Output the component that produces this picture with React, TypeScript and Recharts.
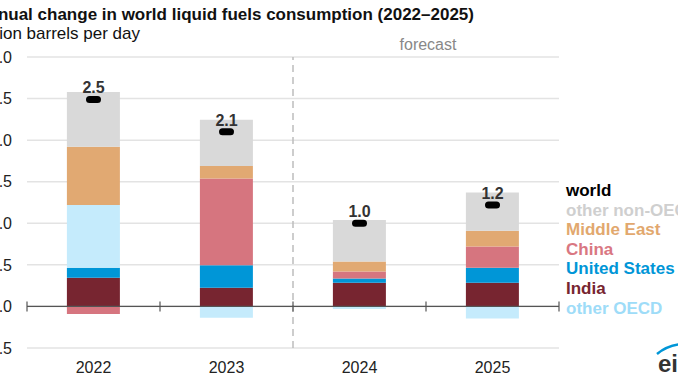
import React from 'react'
import {
  ComposedChart, Bar, Line, XAxis, YAxis, CartesianGrid, ReferenceLine, LabelList,
} from 'recharts'

// million barrels per day
const years = ['2022', '2023', '2024', '2025']
const india = [0.345, 0.225, 0.285, 0.285]
const unitedStates = [0.12, 0.27, 0.05, 0.18]
const otherOecd = [0.755, -0.135, -0.03, -0.145]
const china = [-0.09, 1.045, 0.085, 0.255]
const middleEast = [0.7, 0.15, 0.12, 0.19]
const otherNonOecd = [0.66, 0.555, 0.5, 0.46]
const world = [2.49, 2.1, 1.0, 1.22]
const yTicks = [-0.5, 0, 0.5, 1, 1.5, 2, 2.5, 3]

const data = years.map((year, i) => ({
  year,
  india: india[i],
  unitedStates: unitedStates[i],
  otherOecd: otherOecd[i],
  china: china[i],
  middleEast: middleEast[i],
  otherNonOecd: otherNonOecd[i],
  world: world[i],
}))

const legendItems = [
  { label: 'world', color: '#000000' },
  { label: 'other non-OECD', color: '#cfcfcf' },
  { label: 'Middle East', color: '#e2a86e' },
  { label: 'China', color: '#d97782' },
  { label: 'United States', color: '#0096d7' },
  { label: 'India', color: '#772530' },
  { label: 'other OECD', color: '#9edcf8' },
]

function WorldMarker(props: any) {
  const { cx, cy } = props
  if (cx == null || cy == null) return null
  return <rect x={cx - 7.5} y={cy - 3.5} width={15} height={7} rx={3.5} fill="#000" />
}

const font = '"Liberation Sans", Arial, sans-serif'

export default function App() {
  return (
    <div style={{ position: 'absolute', left: 0, top: 0, width: 678, height: 381, overflow: 'hidden', background: '#fff', fontFamily: font }}>
      <div style={{ position: 'absolute', right: 204, top: 5, whiteSpace: 'nowrap', fontWeight: 'bold', fontSize: 17, lineHeight: '20px', color: '#111' }}>
        Annual change in world liquid fuels consumption (2022–2025)
      </div>
      <div style={{ position: 'absolute', right: 538, top: 24, whiteSpace: 'nowrap', fontSize: 17, lineHeight: '20px', color: '#111' }}>
        million barrels per day
      </div>
      <div style={{ position: 'absolute', left: 428, top: 35, transform: 'translateX(-50%)', fontSize: 16, lineHeight: '20px', color: '#888' }}>
        forecast
      </div>

      <div style={{ position: 'absolute', left: -40, top: 0 }}>
        <ComposedChart
          width={720}
          height={381}
          data={data}
          stackOffset="sign"
          barCategoryGap="30%"
          margin={{ top: 57, right: 121, bottom: 0, left: 0 }}
        >
          <CartesianGrid vertical={false} stroke="#e3e3e3" strokeWidth={1.5} />
          <XAxis
            dataKey="year"
            axisLine={false}
            tickLine={false}
            height={33}
            tickMargin={8}
            tick={{ fontSize: 16, fill: '#222' }}
          />
          <YAxis
            domain={[-0.5, 3]}
            ticks={yTicks}
            width={67}
            axisLine={false}
            tickLine={false}
            tickMargin={9}
            tickFormatter={(v) => Number(v).toFixed(1)}
            tick={{ fontSize: 16, fill: '#222' }}
          />
          <ReferenceLine x="2024" position="start" stroke="#bdbdbd" strokeWidth={1.5} strokeDasharray="7 5" />
          <Bar dataKey="india" stackId="a" fill="#772530" isAnimationActive={false} />
          <Bar dataKey="unitedStates" stackId="a" fill="#0096d7" isAnimationActive={false} />
          <Bar dataKey="otherOecd" stackId="a" fill="#c5ebfc" isAnimationActive={false} />
          <Bar dataKey="china" stackId="a" fill="#d6757f" isAnimationActive={false} />
          <Bar dataKey="middleEast" stackId="a" fill="#e1a972" isAnimationActive={false} />
          <Bar dataKey="otherNonOecd" stackId="a" fill="#d9d9d9" isAnimationActive={false} />
          <ReferenceLine y={0} stroke="#555" strokeWidth={1.2} />
          {years.map((y) => (
            <ReferenceLine
              key={'t' + y}
              position="start"
              segment={[{ x: y, y: -0.06 }, { x: y, y: 0.06 }]}
              stroke="#555"
              strokeWidth={1.2}
            />
          ))}
          <ReferenceLine
            position="end"
            segment={[{ x: '2025', y: -0.06 }, { x: '2025', y: 0.06 }]}
            stroke="#555"
            strokeWidth={1.2}
          />
          <Line
            dataKey="world"
            stroke="none"
            dot={<WorldMarker />}
            activeDot={false}
            isAnimationActive={false}
          >
            <LabelList
              dataKey="world"
              position="top"
              offset={6}
              formatter={(v: any) => Number(v).toFixed(1)}
              style={{ fontSize: 16, fontWeight: 'bold', fill: '#333' }}
            />
          </Line>
        </ComposedChart>
      </div>

      <div style={{ position: 'absolute', left: 566, top: 181, whiteSpace: 'nowrap' }}>
        {legendItems.map((it) => (
          <div key={it.label} style={{ fontSize: 17, fontWeight: 'bold', lineHeight: '19.6px', color: it.color }}>
            {it.label}
          </div>
        ))}
      </div>

      <svg style={{ position: 'absolute', left: 655, top: 340 }} width={40} height={40}>
        <path d="M2 14 Q14 4 30 4" stroke="#0096d7" strokeWidth={2.5} fill="none" />
        <text x={3} y={32} fontSize={24} fontWeight="bold" fill="#333" fontFamily={font}>eia</text>
      </svg>
    </div>
  )
}
